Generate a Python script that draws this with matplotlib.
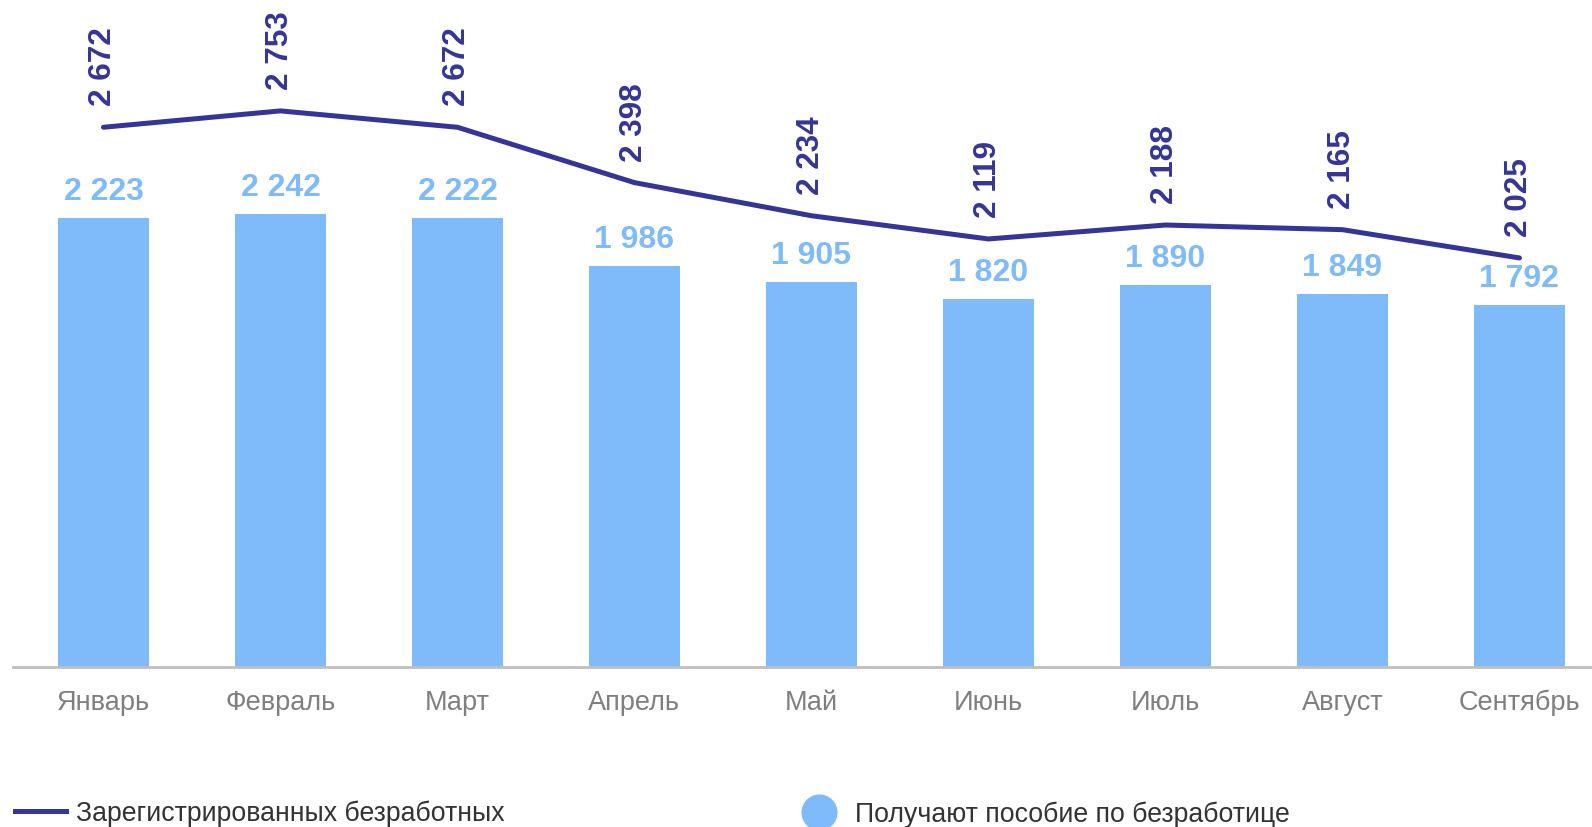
import matplotlib
matplotlib.use("Agg")
import matplotlib.pyplot as plt
from matplotlib.lines import Line2D

months = ["Январь", "Февраль", "Март", "Апрель", "Май", "Июнь", "Июль", "Август", "Сентябрь"]
benefit = [2223, 2242, 2222, 1986, 1905, 1820, 1890, 1849, 1792]
registered = [2672, 2753, 2672, 2398, 2234, 2119, 2188, 2165, 2025]

BAR_C = "#7FBBFA"
LINE_C = "#353599"

plt.rcParams['font.family'] = ['Liberation Sans', 'DejaVu Sans']

def fmt(v):
    return f"{v:,}".replace(",", " ")

W, H, DPI = 1592, 828, 100
fig = plt.figure(figsize=(W / DPI, H / DPI), dpi=DPI)
base = 668
ax = fig.add_axes([13 / W, (H - base) / H, (W - 13) / W, base / H])

x = list(range(len(months)))
ax.bar(x, benefit, width=0.515, color=BAR_C, zorder=2)
ax.plot(x, registered, color=LINE_C, lw=3.6, solid_capstyle='round', zorder=3)

for xi, v in zip(x, benefit):
    ax.annotate(fmt(v), (xi, v), xytext=(0, 12), textcoords='offset pixels',
                ha='center', va='bottom', fontsize=23, fontweight='bold', color=BAR_C)
for xi, v in zip(x, registered):
    ax.annotate(fmt(v), (xi, v), xytext=(0, 22), textcoords='offset pixels',
                ha='center', va='bottom', rotation=90, fontsize=22.7,
                fontweight='bold', color=LINE_C)

ax.set_xlim(-0.511, 8.41)
ax.set_ylim(0, base / 0.202)
for s in ['top', 'right', 'left']:
    ax.spines[s].set_visible(False)
ax.spines['bottom'].set_color('#BFBFBF')
ax.spines['bottom'].set_linewidth(2)
ax.set_yticks([])
ax.set_xticks(x)
ax.set_xticklabels(months, fontsize=19.5, color='#7F7F7F')
ax.tick_params(axis='x', length=0, pad=15.5)

fs = 19.2
h1 = Line2D([], [], color=LINE_C, lw=3.6)
leg1 = fig.legend(handles=[h1], labels=["Зарегистрированных безработных"],
                  loc='center left', bbox_to_anchor=(15 / W, 1 - 814 / H),
                  frameon=False, fontsize=fs, handlelength=1.9, handletextpad=0.4,
                  borderpad=0, borderaxespad=0, labelcolor='#333333')
h2 = Line2D([], [], color=BAR_C, marker='o', markersize=25, lw=0)
leg2 = fig.legend(handles=[h2], labels=["Получают пособие по безработице"],
                  loc='center left', bbox_to_anchor=(801 / W, 1 - 815 / H),
                  frameon=False, fontsize=fs, handlelength=1.33, handletextpad=0.7,
                  borderpad=0, borderaxespad=0, labelcolor='#333333')

fig.savefig("out.png", dpi=DPI)
